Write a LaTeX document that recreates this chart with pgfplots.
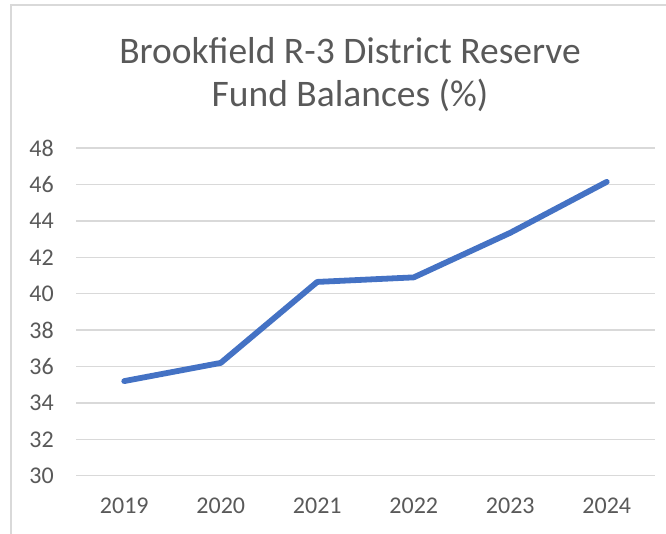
\documentclass[border=0pt]{standalone}
\usepackage{fontspec}
\setmainfont{Carlito}
\usepackage{pgfplots}
\pgfplotsset{compat=1.18}

\definecolor{txtgray}{HTML}{595959}
\definecolor{gridgray}{HTML}{D9D9D9}
\definecolor{xlblue}{HTML}{4472C4}

\begin{document}
\begin{tikzpicture}[x=1pt,y=1pt]
\path[use as bounding box] (0,0) rectangle (666,534);
% chart area frame (cropped on the right and bottom)
\draw[gridgray, line width=1.3pt] (11,0) -- (11,529) -- (666,529);

\node[txtgray, align=center, font=\fontsize{37.5}{43}\selectfont, anchor=base]
  at (350,427) {Brookfield R-3 District Reserve\\Fund Balances (\%)};

\begin{axis}[
  at={(76pt,58.3pt)}, anchor=south west,
  scale only axis,
  width=579pt, height=327.5pt,
  xmin=-0.5, xmax=5.5,
  ymin=30, ymax=48,
  xtick={0,1,2,3,4,5},
  xticklabels={2019,2020,2021,2022,2023,2024},
  ytick={30,32,...,48},
  ymajorgrids,
  grid style={gridgray, line width=1.4pt},
  axis line style={draw=none},
  major tick length=0pt,
  tick label style={txtgray, font=\fontsize{24}{28}\selectfont, inner sep=0pt},
  /pgf/number format/assume math mode=true,
  yticklabel style={anchor=east, xshift=-22pt},
  xticklabel style={anchor=north, yshift=-22pt},
  clip=false,
]
\addplot[xlblue, line width=5.8pt, line join=round, line cap=round] coordinates {
  (0,35.2) (1,36.2) (2,40.65) (3,40.9) (4,43.35) (5,46.15)
};
\end{axis}
\end{tikzpicture}
\end{document}
